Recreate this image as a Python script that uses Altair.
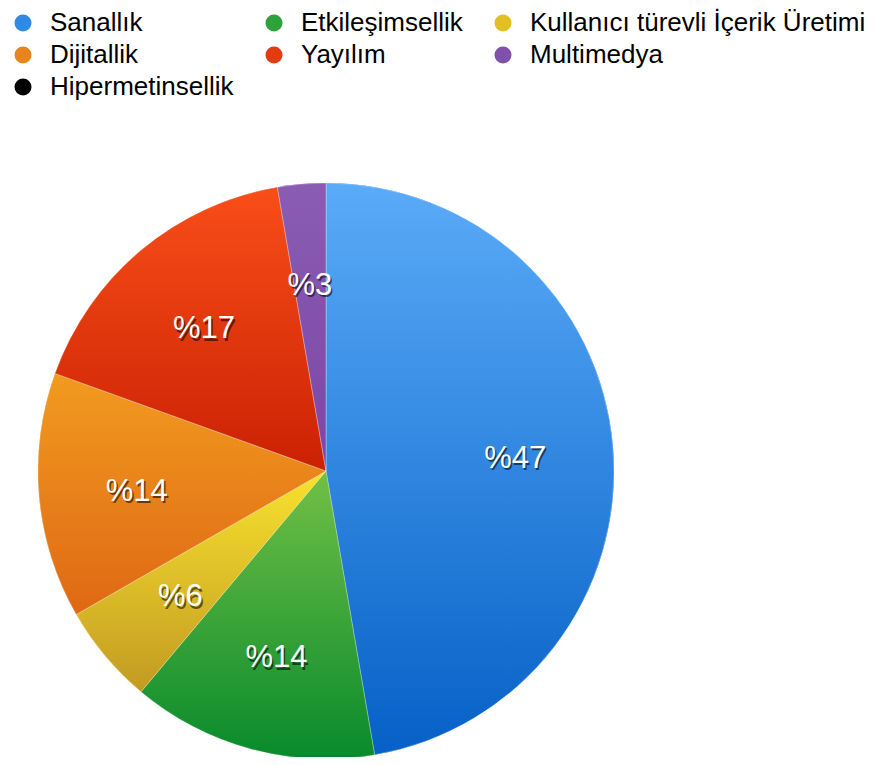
import math
import altair as alt
import pandas as pd

# ---- data ----
categories = ["Sanallık", "Etkileşimsellik", "Kullanıcı türevli İçerik Üretimi",
              "Dijitallik", "Yayılım", "Multimedya", "Hipermetinsellik"]
values = [47.3, 13.8, 5.6, 13.8, 16.8, 2.7, 0.0]
labels = ["%47", "%14", "%6", "%14", "%17", "%3", ""]

legend_colors = ["#2f8ae6", "#2ea23a", "#e2c024", "#e8841a", "#e23c10", "#8050aa", "#000000"]
top_colors = ["#5aabf8", "#72c046", "#f8e22e", "#f19b1f", "#f94e18", "#8a5cb2"]
bottom_colors = ["#0660c6", "#088a2c", "#c29a22", "#df6814", "#cb2104", "#7a48a5"]

df = pd.DataFrame({"o": list(range(len(categories))), "cat": categories,
                   "v": values, "label": labels})

CX, CY, R = 318, 463, 288
theta_scale = alt.Scale(domain=[0, 100], range=[0, 2 * math.pi])

base = (
    alt.Chart(df)
    .transform_window(end="sum(v)", sort=[alt.SortField("o")], frame=[None, 0])
    .transform_calculate(start="datum.end - datum.v", mid="datum.end - datum.v / 2")
)

pos = dict(x=alt.value(CX), y=alt.value(CY))

solid = base.mark_arc(outerRadius=R).encode(
    theta=alt.Theta("start:Q", scale=theta_scale, stack=None),
    theta2="end:Q",
    color=alt.Color(
        "cat:N",
        scale=alt.Scale(domain=categories, range=legend_colors),
        sort=categories,
        legend=alt.Legend(
            orient="none", legendX=2, legendY=2, columns=3, direction="horizontal",
            title=None, symbolType="circle", symbolSize=290, symbolStrokeWidth=0,
            labelFontSize=26, labelFont="Liberation Sans", labelColor="black",
            labelLimit=500, labelOffset=14, columnPadding=27, rowPadding=6,
            padding=0,
        ),
    ),
    **pos,
)

grads = []
for i in range(6):
    g = alt.Gradient(
        gradient="linear",
        stops=[alt.GradientStop(color=top_colors[i], offset=0),
               alt.GradientStop(color=bottom_colors[i], offset=1)],
        x1=0, x2=0, y1=0, y2=1,
    )
    grads.append(
        base.transform_filter(alt.datum.cat == categories[i])
        .mark_arc(outerRadius=R, fill=g, stroke="white", strokeWidth=0.7, strokeOpacity=0.45)
        .encode(theta=alt.Theta("start:Q", scale=theta_scale, stack=None), theta2="end:Q", **pos)
    )

text_enc = dict(
    theta=alt.Theta("mid:Q", scale=theta_scale, stack=None),
    text="label:N",
    **pos,
)
shadow = base.transform_filter("datum.v > 0").mark_text(
    radius=190, fontSize=31, font="Liberation Sans", color="black", opacity=0.55,
    align="center", baseline="middle", dx=1.5, dy=6.5,
).encode(**text_enc)
text = base.transform_filter("datum.v > 0").mark_text(
    radius=190, fontSize=31, font="Liberation Sans", color="white",
    align="center", baseline="middle", dy=4,
).encode(**text_enc)

chart = (
    alt.layer(solid, *grads, shadow, text)
    .properties(width=867, height=749, padding=0, autosize="none")
    .configure_view(stroke=None)
)

chart.save("out.html", embed_options={"renderer": "svg", "actions": False})
